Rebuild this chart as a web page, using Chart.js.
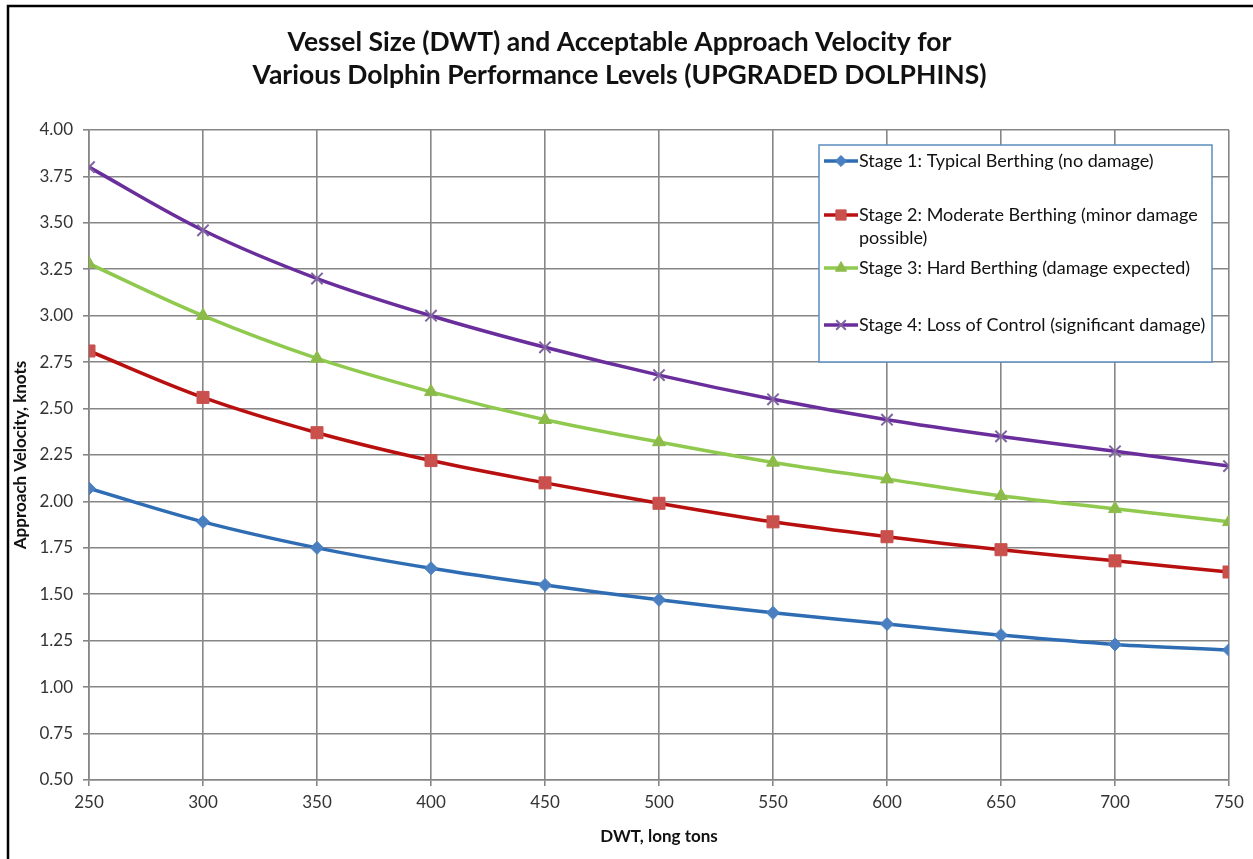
<!DOCTYPE html>
<html>
<head>
<meta charset="utf-8">
<script src="https://cdn.jsdelivr.net/npm/chart.js@4/dist/chart.umd.min.js"></script>
<style>
  html, body { margin: 0; padding: 0; background: #ffffff; overflow: hidden; }
  #wrap { position: relative; width: 1253px; height: 859px; }
  canvas { display: block; }
</style>
</head>
<body>
<div id="wrap"><canvas id="chart" width="1253" height="859"></canvas></div>
<script>
// Vessel size (DWT, long tons)
const dwt = [250, 300, 350, 400, 450, 500, 550, 600, 650, 700, 750];

// Acceptable approach velocity, knots, per performance stage
const stage1 = [2.07, 1.89, 1.75, 1.64, 1.55, 1.47, 1.40, 1.34, 1.28, 1.23, 1.20];
const stage2 = [2.81, 2.56, 2.37, 2.22, 2.10, 1.99, 1.89, 1.81, 1.74, 1.68, 1.62];
const stage3 = [3.28, 3.00, 2.77, 2.59, 2.44, 2.32, 2.21, 2.12, 2.03, 1.96, 1.89];
const stage4 = [3.80, 3.46, 3.20, 3.00, 2.83, 2.68, 2.55, 2.44, 2.35, 2.27, 2.19];

const seriesNames = [
  'Stage 1: Typical Berthing (no damage)',
  'Stage 2: Moderate Berthing (minor damage possible)',
  'Stage 3: Hard Berthing (damage expected)',
  'Stage 4: Loss of Control (significant damage)'
];
// Legend text as wrapped inside the legend box
const legendText = [
  ['Stage 1: Typical Berthing (no damage)'],
  ['Stage 2: Moderate Berthing (minor damage', 'possible)'],
  ['Stage 3: Hard Berthing (damage expected)'],
  ['Stage 4: Loss of Control (significant damage)']
];

const titleLines = [
  'Vessel Size (DWT) and Acceptable Approach Velocity for',
  'Various Dolphin Performance Levels (UPGRADED DOLPHINS)'
];
const xAxisTitle = 'DWT, long tons';
const yAxisTitle = 'Approach Velocity, knots';

const xMin = 250, xMax = 750, xStep = 50;
const yMin = 0.5, yMax = 4.0, yStep = 0.25;

const FONT = 'Lato, "Open Sans", "Liberation Sans", sans-serif';
const GRID = '#868686';

const toPoints = (vals) => dwt.map((x, i) => ({ x: x, y: vals[i] }));

const styles = [
  { line: '#2e6db4', fill: '#4a7fc1', style: 'rectRot',  radius: 6.5, bw: 1 },
  { line: '#b80f0f', fill: '#c9504c', style: 'rect',     radius: 8.5, bw: 1 },
  { line: '#8fc94e', fill: '#8dbb4a', style: 'triangle', radius: 7.5, bw: 1 },
  { line: '#6a2e9c', fill: '#8064a2', style: 'crossRot', radius: 8,   bw: 2 }
];
const seriesValues = [stage1, stage2, stage3, stage4];

const datasets = seriesValues.map((vals, i) => ({
  label: seriesNames[i],
  data: toPoints(vals),
  borderColor: styles[i].line,
  backgroundColor: styles[i].fill,
  borderWidth: 3.5,
  tension: 0.35,
  pointStyle: styles[i].style,
  pointRadius: styles[i].radius,
  pointBackgroundColor: styles[i].fill,
  pointBorderColor: styles[i].fill,
  pointBorderWidth: styles[i].bw
}));

// Frame lines along the top and left edges of the figure
const framePlugin = {
  id: 'frame',
  beforeDraw(chart) {
    const ctx = chart.ctx;
    ctx.save();
    ctx.fillStyle = '#ffffff';
    ctx.fillRect(0, 0, chart.width, chart.height);
    ctx.strokeStyle = '#000000';
    ctx.lineWidth = 2.5;
    ctx.beginPath();
    ctx.moveTo(8, chart.height);
    ctx.lineTo(8, 6);
    ctx.lineTo(chart.width, 6);
    ctx.stroke();
    ctx.restore();
  }
};

// Boxed legend drawn inside the plot area, top right
const boxLegend = {
  id: 'boxLegend',
  afterDraw(chart) {
    const ctx = chart.ctx;
    const box = { x: 819, y: 145, w: 393, h: 217 };
    const rows = [161, 215, 268, 325];
    const lineGap = 23;
    ctx.save();
    ctx.fillStyle = '#ffffff';
    ctx.fillRect(box.x, box.y, box.w, box.h);
    ctx.strokeStyle = '#5b8fbf';
    ctx.lineWidth = 1.5;
    ctx.strokeRect(box.x, box.y, box.w, box.h);

    chart.data.datasets.forEach((ds, i) => {
      const y = rows[i];
      ctx.strokeStyle = ds.borderColor;
      ctx.lineWidth = 3.5;
      ctx.beginPath();
      ctx.moveTo(824, y);
      ctx.lineTo(858, y);
      ctx.stroke();
      ctx.fillStyle = ds.pointBackgroundColor;
      ctx.strokeStyle = ds.pointBorderColor;
      ctx.lineWidth = ds.pointBorderWidth;
      Chart.helpers.drawPoint(ctx, {
        pointStyle: ds.pointStyle,
        rotation: 0,
        radius: ds.pointRadius * 0.85,
        borderWidth: ds.pointBorderWidth
      }, 841, y);

      ctx.fillStyle = '#111111';
      ctx.font = '18px ' + FONT;
      ctx.textAlign = 'left';
      ctx.textBaseline = 'middle';
      legendText[i].forEach((t, k) => ctx.fillText(t, 859, y + k * lineGap));
    });
    ctx.restore();
  }
};

new Chart(document.getElementById('chart'), {
  type: 'line',
  data: { datasets: datasets },
  options: {
    responsive: false,
    animation: false,
    layout: { padding: { top: 0, left: 10, right: 24, bottom: 0 } },
    plugins: {
      legend: { display: false },
      tooltip: { enabled: false },
      title: {
        display: true,
        text: titleLines,
        color: '#111111',
        font: { family: FONT, size: 26.5, weight: 'bold', lineHeight: 1.245 },
        padding: { top: 25.5, bottom: 38.5 }
      }
    },
    scales: {
      x: {
        type: 'linear',
        min: xMin,
        max: xMax,
        ticks: {
          stepSize: xStep,
          color: '#333333',
          font: { family: FONT, size: 17 },
          padding: 6,
          maxRotation: 0
        },
        grid: { color: GRID, lineWidth: 1.6, tickLength: 6, tickColor: GRID },
        border: { color: GRID, width: 1.6 },
        title: {
          display: true,
          text: xAxisTitle,
          color: '#111111',
          font: { family: FONT, size: 17, weight: 'bold', lineHeight: 1.2 },
          padding: { top: 0, bottom: 12 }
        },
        afterFit(scale) { scale.height = 79; }
      },
      y: {
        min: yMin,
        max: yMax,
        ticks: {
          stepSize: yStep,
          color: '#333333',
          font: { family: FONT, size: 17 },
          padding: 10,
          callback: (v) => Number(v).toFixed(2)
        },
        grid: { color: GRID, lineWidth: 1.6, tickLength: 6, tickColor: GRID },
        border: { color: GRID, width: 1.6 },
        title: {
          display: true,
          text: yAxisTitle,
          color: '#111111',
          font: { family: FONT, size: 17, weight: 'bold', lineHeight: 1.2 },
          padding: { top: 0, bottom: 0 }
        },
        afterFit(scale) { scale.width = 79; }
      }
    }
  },
  plugins: [framePlugin, boxLegend]
});
</script>
</body>
</html>
